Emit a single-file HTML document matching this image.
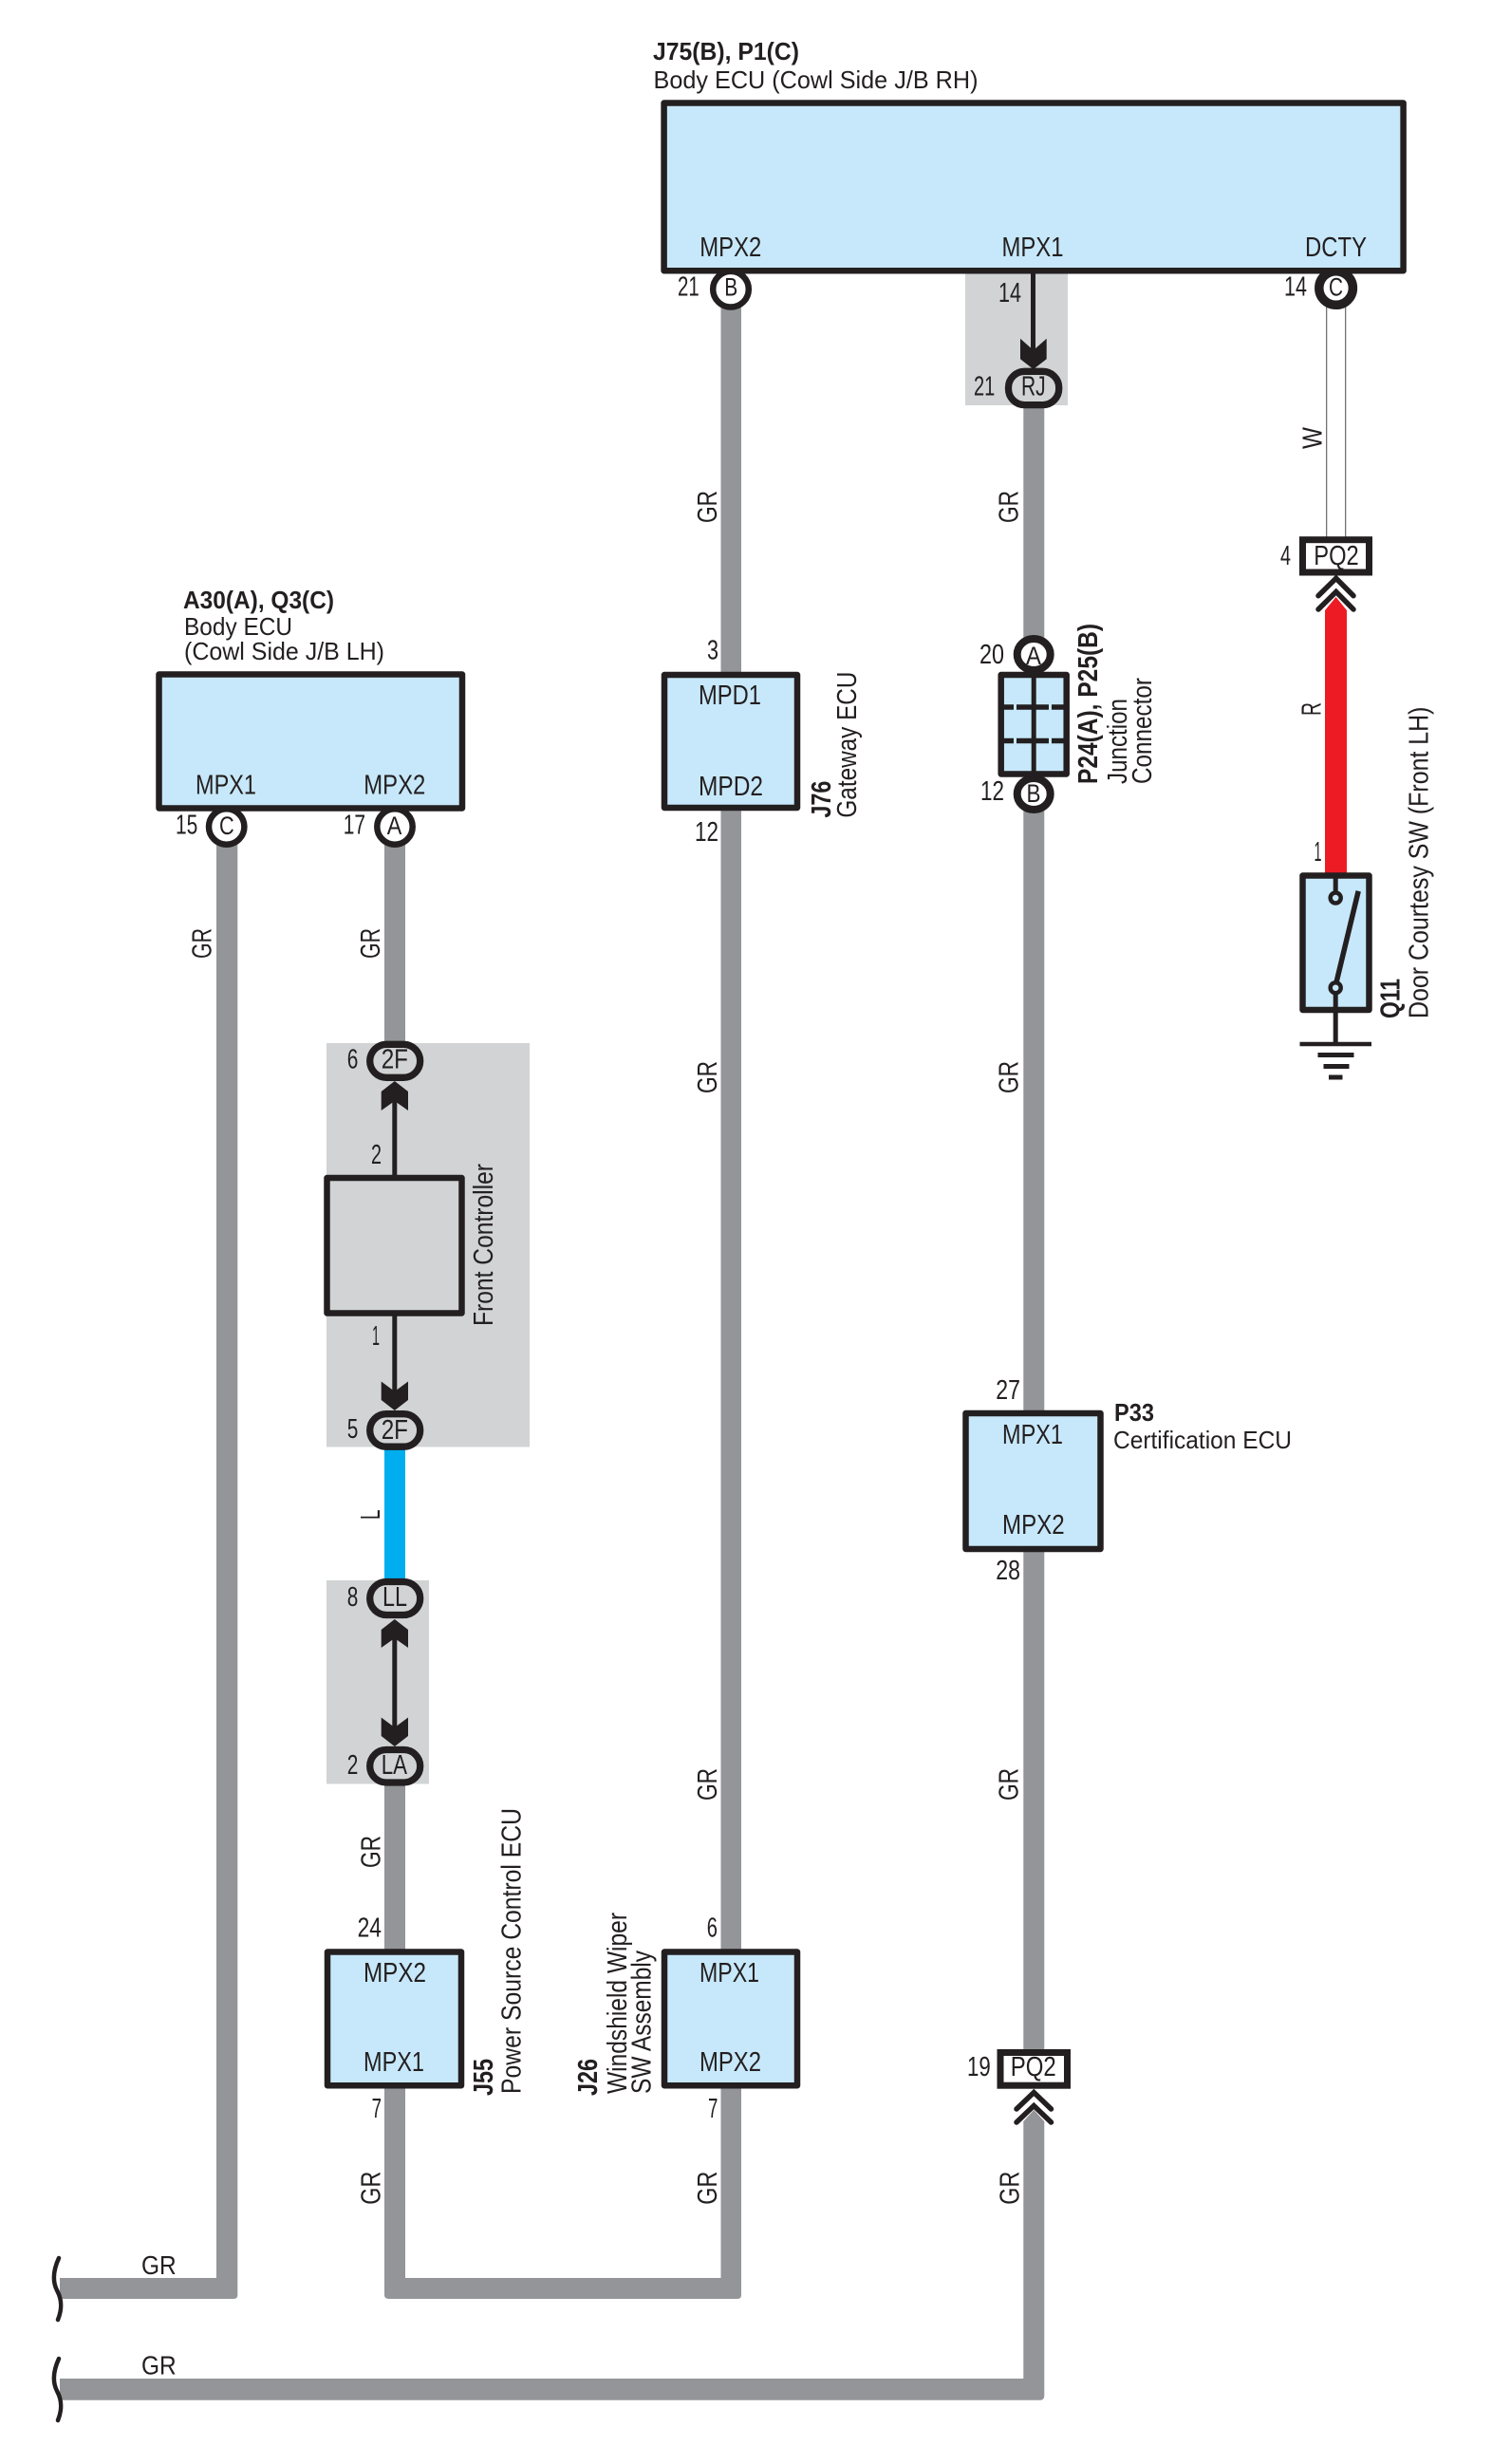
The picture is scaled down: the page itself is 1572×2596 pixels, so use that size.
<!DOCTYPE html>
<html><head><meta charset="utf-8">
<style>
html,body{margin:0;padding:0;background:#fff}
svg{display:block}
text{font-family:"Liberation Sans",sans-serif;fill:#231f20}
.b{font-weight:bold}
</style></head><body>
<svg xmlns="http://www.w3.org/2000/svg" width="1572" height="2596" viewBox="0 0 1572 2596">
<rect width="1572" height="2596" fill="#fff"/>
<!-- gray blocks -->
<g fill="#d1d3d4">
<rect x="1017" y="288" width="108" height="139"/>
<rect x="344" y="1099" width="214" height="425.5"/>
<rect x="344" y="1665" width="108" height="214.5"/>
</g>
<!-- wires -->
<g fill="#939598">
<path d="M228,885 H250.3 V2418 Q250.3,2422 246,2422 H63 V2400 H228 Z"/>
<rect x="405" y="885" width="22" height="215"/>
<path d="M405,1880 H427 V2400 H759.5 V320 H781 V2418 Q781,2422 777,2422 H410 Q405,2422 405,2418 Z"/>
<rect x="1078.3" y="425" width="22" height="1740"/>
<path d="M1078.3,2235 L1089.3,2223 L1100.3,2235 V2524 Q1100.3,2528.7 1096,2528.7 H63 V2506 H1078.3 Z"/>
</g>
<rect x="405" y="1525" width="22" height="140" fill="#00aeef"/>
<path d="M1396,922 V643 L1407.6,629 L1419,643 V922 Z" fill="#ed1c24"/>
<!-- W wire -->
<g stroke="#58595b" stroke-width="1.1" fill="none">
<line x1="1397.7" y1="320" x2="1397.7" y2="568"/>
<line x1="1417.7" y1="320" x2="1417.7" y2="568"/>
</g>
<!-- black signal lines -->
<g stroke="#231f20" stroke-width="5" fill="none">
<line x1="1088.5" y1="286" x2="1088.5" y2="375"/>
<line x1="415.8" y1="1150" x2="415.8" y2="1240"/>
<line x1="415.8" y1="1385" x2="415.8" y2="1475"/>
<line x1="415.8" y1="1715" x2="415.8" y2="1830"/>
</g>
<!-- arrowheads -->
<g fill="#231f20">
<polygon points="1075,356.7 1088.8,369 1102.7,356.7 1102.7,378.3 1088.8,389 1075,378.3"/>
<polygon points="415.8,1139 430,1150 430,1170 415.8,1160 401.7,1170 401.7,1150"/>
<polygon points="415.8,1486 430,1475 430,1455.5 415.8,1466 401.7,1455.5 401.7,1475"/>
<polygon points="415.8,1706 430,1717 430,1736 415.8,1726 401.7,1736 401.7,1717"/>
<polygon points="415.8,1840 430,1829 430,1809.5 415.8,1820 401.7,1809.5 401.7,1829"/>
</g>
<!-- round connectors -->
<g fill="#fff" stroke="#231f20">
<circle cx="770" cy="304.7" r="18.8" stroke-width="6.5"/>
<circle cx="1407.6" cy="303.5" r="17.8" stroke-width="9.5"/>
<circle cx="238.7" cy="871" r="18.7" stroke-width="6.5"/>
<circle cx="416" cy="871" r="18.7" stroke-width="6.5"/>
<ellipse cx="1089.2" cy="689.5" rx="17.5" ry="16.5" stroke-width="8"/>
<ellipse cx="1089.2" cy="836.5" rx="17.5" ry="16.5" stroke-width="8"/>
</g>
<!-- oval connectors -->
<g fill="#d1d3d4" stroke="#231f20" stroke-width="7.3">
<rect x="1062.5" y="391.3" width="53.2" height="35.3" rx="17" ry="17"/>
<rect x="389.7" y="1100.3" width="53" height="35" rx="17.5" ry="17.5"/>
<rect x="389.7" y="1489.7" width="53" height="34.5" rx="17.2" ry="17.2"/>
<rect x="389.7" y="1666.5" width="53" height="35" rx="17.5" ry="17.5"/>
<rect x="389.7" y="1843.5" width="53" height="34.5" rx="17.2" ry="17.2"/>
</g>
<!-- boxes -->
<g fill="#c7e8fa" stroke="#231f20" stroke-width="6.5" stroke-linejoin="round">
<rect x="699.6" y="108.5" width="779" height="176.7"/>
<rect x="167.5" y="710.5" width="319.5" height="141"/>
<rect x="700" y="711" width="140" height="140"/>
<rect x="1054.7" y="711" width="69" height="104.5"/>
<rect x="1017.5" y="1489" width="142" height="143"/>
<rect x="345" y="2056.5" width="141" height="140.7"/>
<rect x="700" y="2056.5" width="140" height="140.7"/>
<rect x="1372.5" y="922.5" width="70" height="141.5"/>
<rect x="344.5" y="1241" width="142" height="142.5" fill="#d1d3d4"/>
<rect x="1372.5" y="568.7" width="70" height="34.3" fill="#fff" stroke-width="7" stroke-linejoin="miter"/>
<rect x="1054" y="2162.5" width="70.5" height="34.7" fill="#fff" stroke-width="7" stroke-linejoin="miter"/>
</g>
<!-- junction internals -->
<g stroke="#231f20" fill="none">
<line x1="1089.2" y1="711" x2="1089.2" y2="815" stroke-width="5"/>
<path d="M1055,745 H1068 M1071,745 H1105 M1108,745 H1123 M1055,780.5 H1068 M1071,780.5 H1105 M1108,780.5 H1123" stroke-width="5.5"/>
</g>
<!-- chevrons -->
<g fill="none" stroke="#231f20" stroke-width="5.5" stroke-linecap="round">
<path d="M1389,627.7 L1407.7,609.3 L1426,627.7"/>
<path d="M1389,642 L1407.7,623.5 L1426,642"/>
<path d="M1071,2222 L1089.3,2204.5 L1107.5,2222"/>
<path d="M1071,2236 L1089.3,2218.5 L1107.5,2236"/>
</g>
<!-- switch + ground -->
<g stroke="#231f20" fill="none">
<line x1="1407.2" y1="922" x2="1407.2" y2="941" stroke-width="5"/>
<circle cx="1407.2" cy="946" r="5.5" fill="#c7e8fa" stroke-width="4.5"/>
<line x1="1431.2" y1="938.8" x2="1408" y2="1035" stroke-width="5.5"/>
<circle cx="1407.2" cy="1040.7" r="5.5" fill="#c7e8fa" stroke-width="4.5"/>
<line x1="1407.2" y1="1046" x2="1407.2" y2="1100" stroke-width="5"/>
<line x1="1369.5" y1="1100" x2="1445" y2="1100" stroke-width="4.5"/>
<line x1="1388.5" y1="1111.5" x2="1426.5" y2="1111.5" stroke-width="5"/>
<line x1="1394.5" y1="1123.5" x2="1421.5" y2="1123.5" stroke-width="5"/>
<line x1="1400" y1="1135" x2="1414.5" y2="1135" stroke-width="5"/>
</g>
<!-- squiggles -->
<g fill="none" stroke="#231f20" stroke-width="4.5" stroke-linecap="round">
<path d="M62,2379 C56,2392 55,2403 60,2413 C66,2424 65,2434 61,2444"/>
<path d="M62,2485 C56,2498 55,2509 60,2519 C66,2530 65,2540 61,2550"/>
</g>
<!-- bold titles -->
<g font-size="26">
<text class="b" x="688" y="63" textLength="154" lengthAdjust="spacingAndGlyphs">J75(B), P1(C)</text>
<text class="b" x="193" y="641" textLength="159" lengthAdjust="spacingAndGlyphs">A30(A), Q3(C)</text>
<text class="b" x="1174" y="1497" textLength="42" lengthAdjust="spacingAndGlyphs">P33</text>
</g>
<g font-size="29">
<text class="b" transform="translate(875,861.6) rotate(-90)" textLength="39" lengthAdjust="spacingAndGlyphs">J76</text>
<text class="b" transform="translate(1156,826) rotate(-90)" textLength="169" lengthAdjust="spacingAndGlyphs">P24(A), P25(B)</text>
<text class="b" transform="translate(1474.5,1073) rotate(-90)" textLength="42" lengthAdjust="spacingAndGlyphs">Q11</text>
<text class="b" transform="translate(519,2208) rotate(-90)" textLength="39" lengthAdjust="spacingAndGlyphs">J55</text>
<text class="b" transform="translate(629,2208) rotate(-90)" textLength="39" lengthAdjust="spacingAndGlyphs">J26</text>
</g>
<!-- component names -->
<g font-size="26">
<text x="688.5" y="93" textLength="342" lengthAdjust="spacingAndGlyphs">Body ECU (Cowl Side J/B RH)</text>
<text x="194" y="669" textLength="114" lengthAdjust="spacingAndGlyphs">Body ECU</text>
<text x="194" y="695" textLength="211" lengthAdjust="spacingAndGlyphs">(Cowl Side J/B LH)</text>
<text x="1173" y="1526" textLength="188" lengthAdjust="spacingAndGlyphs">Certification ECU</text>
</g>
<g font-size="29">
<text transform="translate(902,861.6) rotate(-90)" textLength="154" lengthAdjust="spacingAndGlyphs">Gateway ECU</text>
<text transform="translate(1187,826) rotate(-90)" textLength="90" lengthAdjust="spacingAndGlyphs">Junction</text>
<text transform="translate(1213,826) rotate(-90)" textLength="112" lengthAdjust="spacingAndGlyphs">Connector</text>
<text transform="translate(1504.5,1073) rotate(-90)" textLength="328.5" lengthAdjust="spacingAndGlyphs">Door Courtesy SW (Front LH)</text>
<text transform="translate(519,1397) rotate(-90)" textLength="171" lengthAdjust="spacingAndGlyphs">Front Controller</text>
<text transform="translate(548.5,2206) rotate(-90)" textLength="301" lengthAdjust="spacingAndGlyphs">Power Source Control ECU</text>
<text transform="translate(660,2206) rotate(-90)" textLength="191" lengthAdjust="spacingAndGlyphs">Windshield Wiper</text>
<text transform="translate(685.5,2206) rotate(-90)" textLength="151" lengthAdjust="spacingAndGlyphs">SW Assembly</text>
</g>
<!-- pin names -->
<g font-size="28.5">
<text x="737.3" y="270" textLength="65" lengthAdjust="spacingAndGlyphs">MPX2</text>
<text x="1055.5" y="270" textLength="65" lengthAdjust="spacingAndGlyphs">MPX1</text>
<text x="1375" y="270" textLength="65" lengthAdjust="spacingAndGlyphs">DCTY</text>
<text x="206" y="836.7" textLength="64" lengthAdjust="spacingAndGlyphs">MPX1</text>
<text x="383.3" y="836.7" textLength="65" lengthAdjust="spacingAndGlyphs">MPX2</text>
<text x="736" y="742" textLength="66" lengthAdjust="spacingAndGlyphs">MPD1</text>
<text x="736" y="838" textLength="68" lengthAdjust="spacingAndGlyphs">MPD2</text>
<text x="1056" y="1521" textLength="64" lengthAdjust="spacingAndGlyphs">MPX1</text>
<text x="1056" y="1616" textLength="65.7" lengthAdjust="spacingAndGlyphs">MPX2</text>
<text x="383" y="2088" textLength="66" lengthAdjust="spacingAndGlyphs">MPX2</text>
<text x="383" y="2182" textLength="64" lengthAdjust="spacingAndGlyphs">MPX1</text>
<text x="737" y="2088" textLength="63" lengthAdjust="spacingAndGlyphs">MPX1</text>
<text x="737" y="2182" textLength="65" lengthAdjust="spacingAndGlyphs">MPX2</text>
<text x="1384.3" y="595" textLength="47.4" lengthAdjust="spacingAndGlyphs">PQ2</text>
<text x="1064.7" y="2187" textLength="48" lengthAdjust="spacingAndGlyphs">PQ2</text>
</g>
<!-- connector letters -->
<g font-size="27">
<text x="763.3" y="311.7" textLength="14" lengthAdjust="spacingAndGlyphs">B</text>
<text x="1400" y="311.7" textLength="15" lengthAdjust="spacingAndGlyphs">C</text>
<text x="231" y="879" textLength="15.7" lengthAdjust="spacingAndGlyphs">C</text>
<text x="407.7" y="879" textLength="15.6" lengthAdjust="spacingAndGlyphs">A</text>
<text x="1081" y="700" textLength="16" lengthAdjust="spacingAndGlyphs">A</text>
<text x="1081.5" y="845" textLength="15" lengthAdjust="spacingAndGlyphs">B</text>
</g>
<g font-size="28.5">
<text x="1076" y="416.7" textLength="25.7" lengthAdjust="spacingAndGlyphs">RJ</text>
<text x="401.7" y="1125.7" textLength="28.3" lengthAdjust="spacingAndGlyphs">2F</text>
<text x="401.7" y="1516" textLength="28.3" lengthAdjust="spacingAndGlyphs">2F</text>
<text x="403" y="1692" textLength="26" lengthAdjust="spacingAndGlyphs">LL</text>
<text x="401.7" y="1869" textLength="27.3" lengthAdjust="spacingAndGlyphs">LA</text>
</g>
<!-- pin numbers -->
<g font-size="28.5">
<text x="714" y="311.7" textLength="22.7" lengthAdjust="spacingAndGlyphs">21</text>
<text x="1353" y="311.7" textLength="24" lengthAdjust="spacingAndGlyphs">14</text>
<text x="1052" y="318" textLength="24" lengthAdjust="spacingAndGlyphs">14</text>
<text x="1026" y="416.7" textLength="22.3" lengthAdjust="spacingAndGlyphs">21</text>
<text x="1349" y="595" textLength="11" lengthAdjust="spacingAndGlyphs">4</text>
<text x="1032" y="699" textLength="26" lengthAdjust="spacingAndGlyphs">20</text>
<text x="1033" y="843" textLength="25" lengthAdjust="spacingAndGlyphs">12</text>
<text x="745" y="694.7" textLength="12" lengthAdjust="spacingAndGlyphs">3</text>
<text x="732" y="886" textLength="25" lengthAdjust="spacingAndGlyphs">12</text>
<text x="1384.5" y="907" textLength="8" lengthAdjust="spacingAndGlyphs">1</text>
<text x="185" y="878.5" textLength="23.3" lengthAdjust="spacingAndGlyphs">15</text>
<text x="361.7" y="878.5" textLength="23.3" lengthAdjust="spacingAndGlyphs">17</text>
<text x="365.7" y="1125.7" textLength="11.6" lengthAdjust="spacingAndGlyphs">6</text>
<text x="391" y="1226" textLength="11" lengthAdjust="spacingAndGlyphs">2</text>
<text x="392" y="1417" textLength="8" lengthAdjust="spacingAndGlyphs">1</text>
<text x="365.7" y="1515" textLength="11.6" lengthAdjust="spacingAndGlyphs">5</text>
<text x="365.7" y="1692" textLength="11.6" lengthAdjust="spacingAndGlyphs">8</text>
<text x="365.7" y="1869" textLength="11.6" lengthAdjust="spacingAndGlyphs">2</text>
<text x="1049.3" y="1474" textLength="25.7" lengthAdjust="spacingAndGlyphs">27</text>
<text x="1049.3" y="1664" textLength="25.7" lengthAdjust="spacingAndGlyphs">28</text>
<text x="376.6" y="2040.7" textLength="25.4" lengthAdjust="spacingAndGlyphs">24</text>
<text x="744.8" y="2040.7" textLength="11.2" lengthAdjust="spacingAndGlyphs">6</text>
<text x="391.6" y="2231" textLength="10.4" lengthAdjust="spacingAndGlyphs">7</text>
<text x="746" y="2231" textLength="10.4" lengthAdjust="spacingAndGlyphs">7</text>
<text x="1019" y="2187" textLength="24.7" lengthAdjust="spacingAndGlyphs">19</text>
</g>
<!-- wire labels -->
<g font-size="29">
<text transform="translate(222.7,1010) rotate(-90)" textLength="32" lengthAdjust="spacingAndGlyphs">GR</text>
<text transform="translate(400,1010) rotate(-90)" textLength="32" lengthAdjust="spacingAndGlyphs">GR</text>
<text transform="translate(755,551) rotate(-90)" textLength="34" lengthAdjust="spacingAndGlyphs">GR</text>
<text transform="translate(1072.5,551) rotate(-90)" textLength="34" lengthAdjust="spacingAndGlyphs">GR</text>
<text transform="translate(755,1152) rotate(-90)" textLength="34" lengthAdjust="spacingAndGlyphs">GR</text>
<text transform="translate(1072.5,1152) rotate(-90)" textLength="34" lengthAdjust="spacingAndGlyphs">GR</text>
<text transform="translate(755,1897) rotate(-90)" textLength="34" lengthAdjust="spacingAndGlyphs">GR</text>
<text transform="translate(1072.5,1897) rotate(-90)" textLength="34" lengthAdjust="spacingAndGlyphs">GR</text>
<text transform="translate(400.5,1968) rotate(-90)" textLength="34" lengthAdjust="spacingAndGlyphs">GR</text>
<text transform="translate(400.4,2322.7) rotate(-90)" textLength="35" lengthAdjust="spacingAndGlyphs">GR</text>
<text transform="translate(755,2322.7) rotate(-90)" textLength="35" lengthAdjust="spacingAndGlyphs">GR</text>
<text transform="translate(1073.5,2322.7) rotate(-90)" textLength="35" lengthAdjust="spacingAndGlyphs">GR</text>
<text transform="translate(400,1601) rotate(-90)" textLength="10.5" lengthAdjust="spacingAndGlyphs">L</text>
<text transform="translate(1392.5,473) rotate(-90)" textLength="23" lengthAdjust="spacingAndGlyphs">W</text>
<text transform="translate(1391.5,754) rotate(-90)" textLength="14" lengthAdjust="spacingAndGlyphs">R</text>
</g>
<g font-size="28">
<text x="149" y="2396" textLength="36.7" lengthAdjust="spacingAndGlyphs">GR</text>
<text x="149" y="2501.7" textLength="36.7" lengthAdjust="spacingAndGlyphs">GR</text>
</g>
</svg>
</body></html>
